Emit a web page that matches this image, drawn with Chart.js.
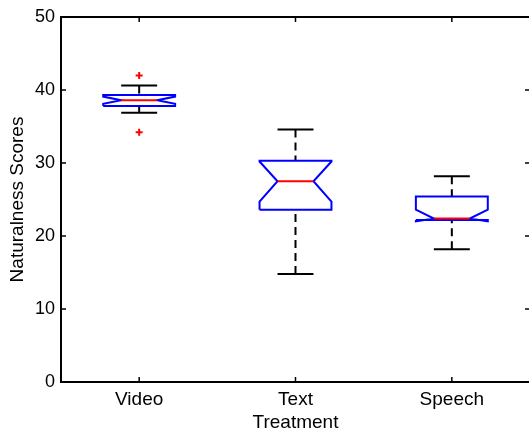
<!DOCTYPE html>
<html><head><meta charset="utf-8">
<script src="https://cdn.jsdelivr.net/npm/chart.js@4.4.1/dist/chart.umd.min.js"></script>
<style>
html,body{margin:0;padding:0;background:#fff;overflow:hidden}
#wrap{width:529px;height:430px;overflow:hidden;position:relative;background:#fff}
canvas{display:block}
</style></head>
<body><div id="wrap"><canvas id="c" width="532" height="430" style="width:532px;height:430px"></canvas></div>
<script>
// ---- data ----
const categories = ['Video', 'Text', 'Speech'];
const positions = [1, 2, 3];
const whiskerHi = [40.6, 34.6, 28.2];
const q3 = [39.3, 30.3, 25.4];
const notchHi = [39.1, 30.2, 23.6];
const median = [38.6, 27.5, 22.4];
const notchLo = [38.1, 24.7, 22.0];
const q1 = [37.8, 23.6, 22.2];
const whiskerLo = [36.9, 14.8, 18.2];
const outliers = [[42.0, 34.2], [], []];
const yTicks = [0, 10, 20, 30, 40, 50];
const xTitle = 'Treatment';
const yTitle = 'Naturalness Scores';

// ---- geometry (category units) ----
const BOX_HALF = 0.23, NOTCH_HALF = 0.115, CAP_HALF = 0.115, TICK = 5;

const datasets = [];
positions.forEach((x, i) => {
  datasets.push({ data: [{x, y: whiskerHi[i]}, {x, y: q3[i]}], borderColor: '#000', borderWidth: 2, borderDash: [8, 5], pointRadius: 0, order: 3 });
  datasets.push({ data: [{x, y: whiskerLo[i]}, {x, y: q1[i]}], borderColor: '#000', borderWidth: 2, borderDash: [8, 5], pointRadius: 0, order: 3 });
  datasets.push({ data: [{x: x - CAP_HALF, y: whiskerHi[i]}, {x: x + CAP_HALF, y: whiskerHi[i]}], borderColor: '#000', borderWidth: 2, pointRadius: 0, order: 3 });
  datasets.push({ data: [{x: x - CAP_HALF, y: whiskerLo[i]}, {x: x + CAP_HALF, y: whiskerLo[i]}], borderColor: '#000', borderWidth: 2, pointRadius: 0, order: 3 });
  datasets.push({ data: [
      {x: x - BOX_HALF, y: q1[i]}, {x: x - BOX_HALF, y: notchLo[i]}, {x: x - NOTCH_HALF, y: median[i]},
      {x: x - BOX_HALF, y: notchHi[i]}, {x: x - BOX_HALF, y: q3[i]}, {x: x + BOX_HALF, y: q3[i]},
      {x: x + BOX_HALF, y: notchHi[i]}, {x: x + NOTCH_HALF, y: median[i]}, {x: x + BOX_HALF, y: notchLo[i]},
      {x: x + BOX_HALF, y: q1[i]}, {x: x - BOX_HALF, y: q1[i]}],
    borderColor: '#0000ff', borderWidth: 2, pointRadius: 0, order: 2 });
  datasets.push({ data: [{x: x - NOTCH_HALF, y: median[i]}, {x: x + NOTCH_HALF, y: median[i]}], borderColor: '#ff0000', borderWidth: 2, pointRadius: 0, order: 1 });
  if (outliers[i].length) {
    datasets.push({ data: outliers[i].map(v => ({x, y: v})), showLine: false, pointStyle: 'cross', pointRadius: 3.5, pointHoverRadius: 3.5, pointBorderWidth: 2, pointBorderColor: '#ff0000', borderColor: '#ff0000', order: 0 });
  }
});

const axesBox = {
  id: 'axesBox',
  afterDatasetsDraw(chart) {
    const {ctx, chartArea: a, scales: {x, y}} = chart;
    ctx.save();
    ctx.strokeStyle = '#000';
    ctx.lineWidth = 2;
    ctx.strokeRect(a.left, a.top, a.right - a.left, a.bottom - a.top);
    ctx.lineWidth = 1.5;
    const seg = (x1, y1, x2, y2) => { ctx.beginPath(); ctx.moveTo(x1, y1); ctx.lineTo(x2, y2); ctx.stroke(); };
    yTicks.forEach(v => { const py = y.getPixelForValue(v); seg(a.left, py, a.left + TICK, py); seg(a.right, py, a.right - TICK, py); });
    positions.forEach(v => { const px = x.getPixelForValue(v); seg(px, a.bottom, px, a.bottom - TICK); seg(px, a.top, px, a.top + TICK); });
    ctx.restore();
  }
};

Chart.defaults.font.family = "'Liberation Sans', Arial, Helvetica, sans-serif";
Chart.defaults.font.size = 18;
Chart.defaults.color = '#000';

new Chart(document.getElementById('c'), {
  type: 'line',
  data: { datasets },
  plugins: [axesBox],
  options: {
    responsive: false,
    animation: false,
    layout: { autoPadding: false, padding: { top: 17, right: 2, left: 0, bottom: 0 } },
    plugins: { legend: { display: false }, tooltip: { enabled: false } },
    elements: { line: { tension: 0, fill: false } },
    scales: {
      x: {
        type: 'linear', min: 0.5, max: 3.5,
        grid: { display: false, drawTicks: false }, border: { display: false },
        afterBuildTicks: s => { s.ticks = positions.map(v => ({ value: v })); },
        afterFit: s => { s.height = 48; s.paddingLeft = 0; s.paddingRight = 0; },
        ticks: { padding: 6, autoSkip: false, maxRotation: 0, font: { size: 19 }, callback: v => categories[positions.indexOf(v)] },
        title: { display: true, text: xTitle, font: { size: 19, lineHeight: 0.8 }, padding: { top: 0, bottom: 0 } }
      },
      y: {
        type: 'linear', min: 0, max: 50,
        grid: { display: false, drawTicks: false }, border: { display: false },
        afterBuildTicks: s => { s.ticks = yTicks.map(v => ({ value: v })); },
        afterFit: s => { s.width = 61; s.paddingTop = 0; s.paddingBottom = 0; },
        ticks: { padding: 6, font: { size: 18 } },
        title: { display: true, text: yTitle, font: { size: 19, lineHeight: 1 }, padding: { top: 8.5, bottom: 0 } }
      }
    }
  }
});
</script>
</body></html>
